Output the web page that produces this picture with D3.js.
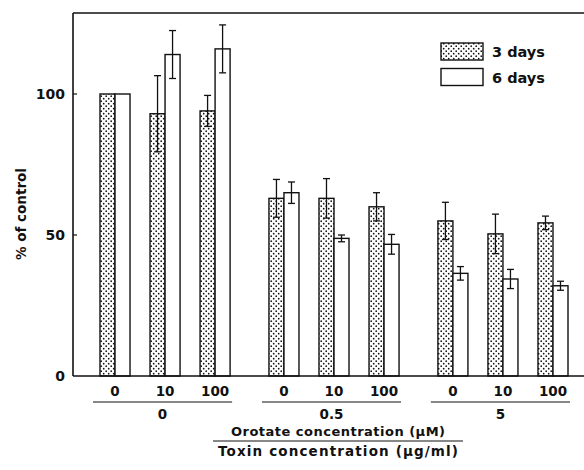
<!DOCTYPE html>
<html><head><meta charset="utf-8">
<script src="https://cdn.jsdelivr.net/npm/d3@7"></script>
<style>body{margin:0;background:#fff}svg{display:block}text{font-family:"DejaVu Sans",sans-serif;font-weight:bold;fill:#111}</style>
</head><body><svg id="c" width="584" height="470"></svg>
<script>
const toxinGroups = ["0", "0.5", "5"];
const orotateLevels = ["0", "10", "100"];
const seriesNames = ["3 days", "6 days"];
// values [toxin][orotate]
const days3 = [[100, 93, 94], [63, 63, 60], [55, 50.4, 54.3]];
const days3Err = [[0, 13.5, 5.5], [6.7, 7, 5], [6.6, 7, 2.4]];
const days6 = [[100, 114, 116], [65, 48.8, 46.7], [36.4, 34.4, 32]];
const days6Err = [[0, 8.5, 8.5], [3.8, 1.2, 3.5], [2.4, 3.4, 1.6]];
const yTicks = [0, 50, 100];

(function(){
const svg = d3.select("#c");
const defs = svg.append("defs");
const pat = defs.append("pattern").attr("id","dots").attr("patternUnits","userSpaceOnUse")
  .attr("width",5).attr("height",5);
pat.append("rect").attr("width",5).attr("height",5).attr("fill","#fff");
pat.append("circle").attr("cx",1.2).attr("cy",1.2).attr("r",0.85).attr("fill","#111");
pat.append("circle").attr("cx",3.7).attr("cy",3.7).attr("r",0.85).attr("fill","#111");

const pl = 73, pr = 584, pt = 13, base = 376;
const y = d3.scaleLinear().domain([0, 100]).range([base, 94]);
const x0 = d3.scaleBand().domain(toxinGroups).range([100, 568]).paddingInner(0.23).paddingOuter(0);
const x1 = d3.scaleBand().domain(orotateLevels).range([0, x0.bandwidth()]).paddingInner(0.4).paddingOuter(0);
const x2 = d3.scaleBand().domain(seriesNames).range([0, x1.bandwidth()]);

const data = [];
toxinGroups.forEach((g, gi) => orotateLevels.forEach((o, oi) => {
  data.push({g, o, s: seriesNames[0], v: days3[gi][oi], e: days3Err[gi][oi]});
  data.push({g, o, s: seriesNames[1], v: days6[gi][oi], e: days6Err[gi][oi]});
}));
const bx = d => x0(d.g) + x1(d.o) + x2(d.s);

svg.append("g").selectAll("rect").data(data).join("rect")
  .attr("x", bx).attr("y", d => y(d.v))
  .attr("width", x2.bandwidth()).attr("height", d => base - y(d.v))
  .attr("fill", d => d.s === seriesNames[0] ? "url(#dots)" : "#fff")
  .attr("stroke", "#111").attr("stroke-width", 1.4);

// error bars
const eg = svg.append("g").attr("stroke","#111").attr("stroke-width",1.3);
data.filter(d => d.e > 0).forEach(d => {
  const cx = bx(d) + x2.bandwidth()/2;
  eg.append("line").attr("x1",cx).attr("x2",cx).attr("y1",y(d.v+d.e)).attr("y2",y(d.v-d.e));
  eg.append("line").attr("x1",cx-3.5).attr("x2",cx+3.5).attr("y1",y(d.v+d.e)).attr("y2",y(d.v+d.e));
  eg.append("line").attr("x1",cx-3.5).attr("x2",cx+3.5).attr("y1",y(d.v-d.e)).attr("y2",y(d.v-d.e));
});

// frame
const fr = svg.append("g").attr("stroke","#111").attr("stroke-width",1.6).attr("fill","none");
fr.append("line").attr("x1",pl).attr("x2",pl).attr("y1",pt).attr("y2",base);
fr.append("line").attr("x1",pl).attr("x2",pr).attr("y1",base).attr("y2",base);
fr.append("line").attr("x1",pl).attr("x2",pr).attr("y1",pt).attr("y2",pt);

// y ticks
const yAxis = svg.append("g");
yTicks.forEach(t => {
  if (t > 0) yAxis.append("line").attr("x1",pl).attr("x2",pl+4).attr("y1",y(t)).attr("y2",y(t)).attr("stroke","#111").attr("stroke-width",1.2);
  yAxis.append("text").attr("x",65).attr("y",y(t)).attr("dy","0.36em").attr("text-anchor","end")
    .attr("font-size",14).text(t);
});
svg.append("text").attr("transform","translate(26,214) rotate(-90)").attr("text-anchor","middle")
  .attr("font-size",13.5).text("% of control");

// x labels
const xl = svg.append("g");
toxinGroups.forEach(g => {
  orotateLevels.forEach(o => {
    xl.append("text").attr("x", x0(g)+x1(o)+x1.bandwidth()/2).attr("y",396).attr("text-anchor","middle")
      .attr("font-size",13.5).text(o);
  });
  const l1 = x0(g) - 7, l2 = x0(g) + x0.bandwidth() + 2;
  xl.append("line").attr("x1",l1).attr("x2",l2).attr("y1",402).attr("y2",402).attr("stroke","#111").attr("stroke-width",1);
  xl.append("text").attr("x",(l1+l2)/2).attr("y",419).attr("text-anchor","middle").attr("font-size",13.5).text(g);
});
xl.append("text").attr("x",338).attr("y",436).attr("text-anchor","middle").attr("font-size",13)
  .attr("textLength",214).attr("lengthAdjust","spacing").text("Orotate concentration (μM)");
xl.append("line").attr("x1",213).attr("x2",463).attr("y1",441).attr("y2",441).attr("stroke","#111").attr("stroke-width",1);
xl.append("text").attr("x",338).attr("y",456).attr("text-anchor","middle").attr("font-size",13.5)
  .attr("textLength",240).attr("lengthAdjust","spacing").text("Toxin concentration (μg/ml)");

// legend
const lg = svg.append("g");
seriesNames.forEach((s, i) => {
  lg.append("rect").attr("x",441).attr("y",43+i*25.5).attr("width",42).attr("height",17)
    .attr("fill", i === 0 ? "url(#dots)" : "#fff").attr("stroke","#111").attr("stroke-width",1.4);
  lg.append("text").attr("x",492).attr("y",57+i*25.5).attr("font-size",14.5).text(s);
});
})();
</script></body></html>
